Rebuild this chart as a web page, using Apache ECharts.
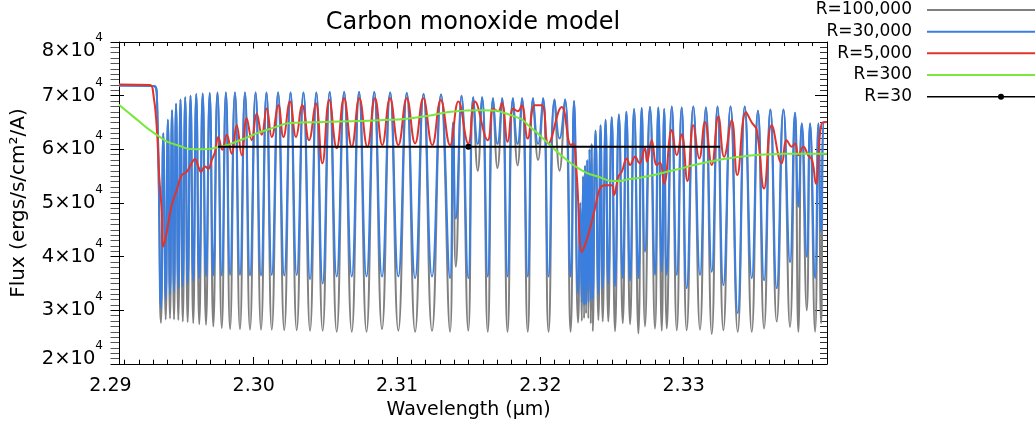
<!DOCTYPE html>
<html>
<head>
<meta charset="utf-8">
<script src="https://cdn.jsdelivr.net/npm/echarts@6/dist/echarts.min.js"></script>
<style>
  html, body { margin: 0; padding: 0; background: #fff; }
  #chart { width: 1036px; height: 428px; }
</style>
</head>
<body>
<div id="chart"></div>
<script>
// Synthetic CO first-overtone spectrum near 2.3 micron, shown at several resolving powers.

// Shared vertex grid (micron) for the two high-resolution spectra: line cores and the crests between them
const waveGrid = [
  2.29060, 2.29304, 2.29325, 2.29353, 2.29369, 2.29386, 2.29401, 2.29416, 2.29430, 2.29444,
  2.29458, 2.29474, 2.29489, 2.29505, 2.29522, 2.29539, 2.29559, 2.29578, 2.29599, 2.29620,
  2.29644, 2.29667, 2.29693, 2.29718, 2.29747, 2.29777, 2.29806, 2.29835, 2.29869, 2.29904,
  2.29939, 2.29974, 2.30013, 2.30051, 2.30089, 2.30126, 2.30170, 2.30213, 2.30257, 2.30300,
  2.30347, 2.30393, 2.30437, 2.30481, 2.30530, 2.30579, 2.30631, 2.30684, 2.30735, 2.30787,
  2.30841, 2.30895, 2.30952, 2.31009, 2.31068, 2.31126, 2.31185, 2.31244, 2.31307, 2.31370,
  2.31391, 2.31410, 2.31450, 2.31497, 2.31532, 2.31563, 2.31593, 2.31633, 2.31670, 2.31701,
  2.31733, 2.31771, 2.31809, 2.31841, 2.31872, 2.31912, 2.31949, 2.31984, 2.32019, 2.32057,
  2.32099, 2.32134, 2.32172, 2.32211, 2.32235, 2.32263, 2.32279, 2.32289, 2.32298, 2.32305,
  2.32312, 2.32319, 2.32327, 2.32335, 2.32343, 2.32352, 2.32358, 2.32366, 2.32385, 2.32405,
  2.32420, 2.32435, 2.32455, 2.32474, 2.32498, 2.32521, 2.32548, 2.32575, 2.32600, 2.32626,
  2.32654, 2.32684, 2.32707, 2.32730, 2.32765, 2.32800, 2.32823, 2.32847, 2.32864, 2.32882,
  2.32917, 2.32952, 2.32986, 2.33021, 2.33067, 2.33114, 2.33155, 2.33196, 2.33236, 2.33277,
  2.33327, 2.33377, 2.33426, 2.33475, 2.33518, 2.33561, 2.33605, 2.33649, 2.33696, 2.33742,
  2.33777, 2.33800, 2.33824, 2.33859, 2.33882, 2.33917, 2.33940, 2.33959, 2.33980, 2.34000
];

// R = 30,000 flux on the vertex grid (ergs/s/cm^2/A)
const flux30k = [
  71900, 71800, 69500, 30500, 63000, 32000, 65500, 33000, 67300, 33500,
  68500, 34000, 69300, 34500, 69700, 35000, 70000, 35500, 70300, 36000,
  70400, 36300, 70500, 36500, 70600, 36500, 70600, 36600, 70600, 36600,
  70600, 36500, 70600, 36500, 70600, 36600, 70600, 36500, 70600, 36600,
  70600, 35800, 70600, 35000, 70700, 36300, 70700, 36300, 70700, 36300,
  70700, 36300, 70600, 36300, 70500, 36000, 70300, 36300, 70200, 36000,
  65000, 47100, 70000, 36000, 69700, 61000, 69700, 36300, 69500, 61000,
  69500, 36300, 69500, 61000, 69500, 36300, 69500, 61000, 69500, 36300,
  69300, 62000, 69300, 36300, 69000, 33000, 50000, 31500, 55000, 31000,
  57000, 31000, 58000, 31500, 60000, 32000, 61000, 32000, 63500, 33000,
  64500, 34000, 65500, 35000, 66000, 34500, 66500, 36000, 67000, 35500,
  67500, 36000, 67700, 40900, 67900, 36600, 67800, 37200, 67500, 36600,
  68000, 36600, 67800, 34100, 68000, 36600, 67800, 37200, 68000, 34700,
  68000, 29500, 68000, 36000, 67200, 35600, 67400, 34100, 67400, 39000,
  66800, 49300, 64800, 40000, 64800, 36000, 64800, 44600, 65100, 65100
];

// R = 100,000 flux on the same vertex grid
const flux100k = [
  71900, 71800, 69500, 27700, 63000, 28300, 65500, 28500, 67300, 28300,
  68500, 28200, 69300, 27900, 69700, 27800, 70000, 27600, 70300, 27400,
  70400, 27300, 70500, 27000, 70600, 26700, 70600, 26500, 70600, 26500,
  70600, 26400, 70600, 26400, 70600, 26400, 70600, 26300, 70600, 26300,
  70600, 26200, 70600, 26200, 70700, 26000, 70700, 26000, 70700, 26000,
  70700, 26500, 70600, 26200, 70500, 26000, 70300, 26200, 70200, 26000,
  65000, 38100, 70000, 26200, 69700, 56000, 69700, 26000, 69500, 56500,
  69500, 26000, 69500, 57000, 69500, 26000, 69500, 58000, 69500, 26000,
  69300, 56000, 69300, 26000, 69000, 27700, 50000, 28000, 55000, 28500,
  57000, 29400, 58000, 28500, 60000, 27500, 61000, 26100, 63500, 28200,
  64500, 27900, 65500, 27900, 66000, 26100, 66500, 27600, 67000, 27400,
  67500, 25700, 67700, 27000, 67900, 26600, 67800, 26200, 67500, 26600,
  68000, 26300, 67800, 26300, 68000, 26400, 67800, 25600, 68000, 26300,
  68000, 26000, 68000, 26000, 67200, 26600, 67400, 27900, 67400, 26900,
  66800, 26000, 64800, 30000, 64800, 26000, 64800, 27600, 65100, 65100
];

// R = 5,000 spectrum
const wave5k = [
  2.29060, 2.29276, 2.29299, 2.29323, 2.29341, 2.29358, 2.29369, 2.29393, 2.29428, 2.29463,
  2.29498, 2.29532, 2.29567, 2.29590, 2.29613, 2.29632, 2.29660, 2.29683, 2.29707, 2.29730,
  2.29753, 2.29781, 2.29812, 2.29846, 2.29881, 2.29916, 2.29951, 2.29986, 2.30021, 2.30056,
  2.30091, 2.30126, 2.30172, 2.30207, 2.30253, 2.30295, 2.30339, 2.30386, 2.30433, 2.30479,
  2.30527, 2.30579, 2.30630, 2.30684, 2.30737, 2.30793, 2.30846, 2.30897, 2.30951, 2.31009,
  2.31068, 2.31126, 2.31183, 2.31246, 2.31305, 2.31370, 2.31428, 2.31497, 2.31544, 2.31633,
  2.31672, 2.31705, 2.31731, 2.31772, 2.31812, 2.31844, 2.31870, 2.31912, 2.31963, 2.32010,
  2.32056, 2.32149, 2.32214, 2.32230, 2.32254, 2.32289, 2.32312, 2.32347, 2.32381, 2.32416,
  2.32451, 2.32498, 2.32514, 2.32544, 2.32568, 2.32603, 2.32626, 2.32661, 2.32691, 2.32730,
  2.32744, 2.32777, 2.32812, 2.32835, 2.32863, 2.32917, 2.32952, 2.32986, 2.33026, 2.33067,
  2.33109, 2.33149, 2.33196, 2.33242, 2.33282, 2.33335, 2.33374, 2.33435, 2.33475, 2.33510,
  2.33561, 2.33614, 2.33684, 2.33719, 2.33754, 2.33777, 2.33800, 2.33835, 2.33868, 2.33896,
  2.33922, 2.33963, 2.34000
];
const flux5k = [
  72100, 72000, 70400, 64200, 54900, 48500, 41900, 44600, 49600, 52400,
  55200, 55800, 57400, 58200, 56800, 55800, 56800, 56400, 58000, 59500,
  62300, 59900, 62700, 59200, 64500, 58900, 65800, 61700, 66700, 62700,
  67600, 62300, 68200, 62300, 68900, 62300, 68200, 61700, 68600, 57400,
  69200, 60200, 69500, 60500, 69500, 60500, 69500, 60800, 69500, 60800,
  69500, 61100, 69500, 60800, 69200, 60800, 68900, 61100, 68900, 61700,
  67600, 67100, 68600, 61400, 67600, 67100, 68200, 62000, 68200, 68200,
  61100, 67900, 60800, 61100, 55200, 40900, 42200, 45300, 49000, 52700,
  53300, 53300, 51500, 54900, 55800, 58300, 57100, 58600, 57400, 60200,
  57700, 61700, 57100, 57500, 53600, 63600, 58900, 62800, 54100, 64500,
  58300, 65100, 57100, 66100, 58600, 65400, 55200, 66900, 65000, 63600,
  52700, 64500, 57400, 61700, 60500, 61100, 58900, 60500, 58900, 58000,
  53600, 64800, 65100
];

// R = 300 spectrum
const wave300 = [
  2.29060, 2.29160, 2.29323, 2.29463, 2.29625, 2.29753, 2.29904, 2.30091, 2.30323, 2.30486,
  2.30951, 2.31183, 2.31416, 2.31579, 2.31823, 2.31940, 2.32056, 2.32172, 2.32289, 2.32405,
  2.32521, 2.32638, 2.32730, 2.32928, 2.33161, 2.33393, 2.33626, 2.33859, 2.34000
];
const flux300 = [
  68300, 66100, 62700, 60800, 60000, 60400, 61700, 63600, 65000, 65100,
  65500, 66100, 67100, 67300, 66100, 63900, 61100, 58300, 56100, 54900,
  54100, 54500, 54900, 56100, 57600, 58600, 59100, 59200, 59200
];

// R = 30 spectrum: one resolution element centred on the band
const wave30 = [2.29751, 2.31498, 2.33254];
const flux30 = [60500, 60500, 60500];

// Axis ticks
const waveLabelTicks = [2.29, 2.30, 2.31, 2.32, 2.33];
const waveMajorTicks = [2.30, 2.31, 2.32, 2.33];
const fluxTicks = [20000, 30000, 40000, 50000, 60000, 70000, 80000];

const FONT = 'DejaVu Sans';
const X_MIN = 2.2906, X_MAX = 2.34;
const Y_MIN = 20000, Y_MAX = 80000;

const waveMinorTicks = [];
for (let i = 1; i < 50; i++) {
  const v = +(2.29 + i * 0.001).toFixed(3);
  if (i % 10 !== 0 && v > X_MIN) waveMinorTicks.push(v);
}

const zip = (xs, ys) => xs.map((x, i) => [x, ys[i]]);

function spectrum(name, wave, flux, color, width, smooth) {
  return {
    name, type: 'line', data: zip(wave, flux),
    xAxisIndex: 0, yAxisIndex: 0,
    symbol: 'none', showSymbol: false, smooth,
    lineStyle: { color, width }, itemStyle: { color },
    silent: true, animation: false
  };
}

function xTickAxis(position, values, length, showLine) {
  return {
    type: 'value', gridIndex: 0, position, min: X_MIN, max: X_MAX,
    axisLine: { show: showLine, lineStyle: { color: '#000', width: 1 } },
    axisTick: { show: true, inside: true, length, customValues: values, lineStyle: { color: '#000', width: 1 } },
    axisLabel: { show: false }, splitLine: { show: false }
  };
}

// "n×10⁴" labels; the end labels sit a little inside the frame
function fluxLabel(v) {
  const head = `${v / 10000}\u00d710`;
  if (v === Y_MAX) return `{mt|${head}}{et|4}`;
  if (v === Y_MIN) return `{mb|${head}}{eb|4}`;
  return `{m|${head}}{e|4}`;
}
const mantissa = { fontFamily: FONT, fontSize: 19.5, lineHeight: 19.5 };
const exponent = { fontFamily: FONT, fontSize: 12, lineHeight: 12 };

// legend glyphs: a 2px rule across the key, the R=30 key also carries its dot
const KEY_LINE = 'path://M0 0M0 2H108V4H0ZM108 6';
const KEY_DOT = 'path://M0 0M0 2.2H108V3.8H0ZM71 3A3 3 0 1 1 77 3A3 3 0 1 1 71 3ZM108 6';

const chart = echarts.init(document.getElementById('chart'), null, { renderer: 'canvas' });

chart.setOption({
  animation: false,
  backgroundColor: '#fff',
  title: {
    text: 'Carbon monoxide model', left: 473, top: 11, textAlign: 'center', padding: 0,
    textStyle: { fontFamily: FONT, fontSize: 24, fontWeight: 'normal', color: '#000' }
  },
  legend: {
    orient: 'vertical', right: 1, top: 1.5, align: 'right', padding: 0,
    itemWidth: 108, itemHeight: 6, itemGap: 4.67,
    textStyle: { fontFamily: FONT, fontSize: 17, lineHeight: 16, color: '#000', padding: [0, 10, 0, 0] },
    selectedMode: false,
    data: [
      { name: 'R=100,000', icon: KEY_LINE },
      { name: 'R=30,000', icon: KEY_LINE },
      { name: 'R=5,000', icon: KEY_LINE },
      { name: 'R=300', icon: KEY_LINE },
      { name: 'R=30', icon: KEY_DOT }
    ]
  },
  grid: [
    { left: 119, right: 209, top: 42, bottom: 64 },
    { left: 110.4, right: 209, top: 42, bottom: 64 }
  ],
  xAxis: [
    xTickAxis('bottom', waveMajorTicks, 7, true),
    xTickAxis('bottom', waveMinorTicks, 4.3, false),
    xTickAxis('top', waveMajorTicks, 6.5, true),
    xTickAxis('top', waveMinorTicks, 4, false),
    {
      type: 'value', gridIndex: 1, position: 'bottom', min: 2.29, max: 2.34,
      axisLine: { show: false }, axisTick: { show: false }, splitLine: { show: false },
      axisLabel: {
        customValues: waveLabelTicks, margin: 13, formatter: v => v.toFixed(2),
        fontFamily: FONT, fontSize: 19, color: '#000'
      },
      name: 'Wavelength (\u03bcm)', nameLocation: 'middle', nameGap: 37,
      nameTextStyle: { fontFamily: FONT, fontSize: 19, color: '#000' }
    }
  ],
  yAxis: [
    {
      type: 'value', gridIndex: 0, position: 'left', min: Y_MIN, max: Y_MAX, interval: 10000,
      axisLine: { show: true, lineStyle: { color: '#000', width: 1 } },
      axisTick: { show: true, inside: false, length: 8.5, lineStyle: { color: '#000' } },
      minorTick: { show: true, splitNumber: 10, length: 8.5, lineStyle: { color: '#555' } },
      splitLine: { show: false },
      axisLabel: {
        customValues: fluxTicks, margin: 16, color: '#000',
        formatter: fluxLabel,
        rich: {
          m: { ...mantissa },
          e: { ...exponent, padding: [0, 0, 26, 0] },
          mt: { ...mantissa, padding: [18, 0, 0, 0] },
          et: { ...exponent, padding: [0, 0, 8, 0] },
          mb: { ...mantissa, padding: [0, 0, 10, 0] },
          eb: { ...exponent, padding: [0, 0, 36, 0] }
        }
      },
      name: 'Flux (ergs/s/cm\u00b2/A)', nameLocation: 'middle', nameGap: 90, nameRotate: 90,
      nameTextStyle: { fontFamily: FONT, fontSize: 20, color: '#000' }
    },
    {
      type: 'value', gridIndex: 0, position: 'left', min: Y_MIN, max: Y_MAX, interval: 10000,
      axisLine: { show: false }, axisLabel: { show: false }, splitLine: { show: false },
      axisTick: { show: true, inside: true, length: 5, lineStyle: { color: '#000' } }
    },
    {
      type: 'value', gridIndex: 0, position: 'right', min: Y_MIN, max: Y_MAX, interval: 10000,
      axisLine: { show: true, lineStyle: { color: '#000', width: 1 } },
      axisTick: { show: true, inside: true, length: 12, lineStyle: { color: '#000' } },
      minorTick: { show: true, splitNumber: 10, length: 7, lineStyle: { color: '#333' } },
      axisLabel: { show: false }, splitLine: { show: false }
    },
    { type: 'value', gridIndex: 1, min: 0, max: 1, show: false }
  ],
  series: [
    spectrum('R=100,000', waveGrid, flux100k, '#808080', 2, 0.5),
    spectrum('R=30,000', waveGrid, flux30k, '#3a7ee0', 2, 0.5),
    spectrum('R=5,000', wave5k, flux5k, '#e2332b', 2, 0.45),
    spectrum('R=300', wave300, flux300, '#78e83c', 2, 0.6),
    {
      name: 'R=30', type: 'line', xAxisIndex: 0, yAxisIndex: 0,
      data: wave30.map((x, i) => ({
        value: [x, flux30[i]],
        symbol: i === Math.floor(wave30.length / 2) ? 'circle' : 'none'
      })),
      symbol: 'circle', symbolSize: 6, showSymbol: true,
      lineStyle: { color: '#000', width: 2 }, itemStyle: { color: '#000' },
      silent: true, animation: false
    }
  ]
});
</script>
</body>
</html>
